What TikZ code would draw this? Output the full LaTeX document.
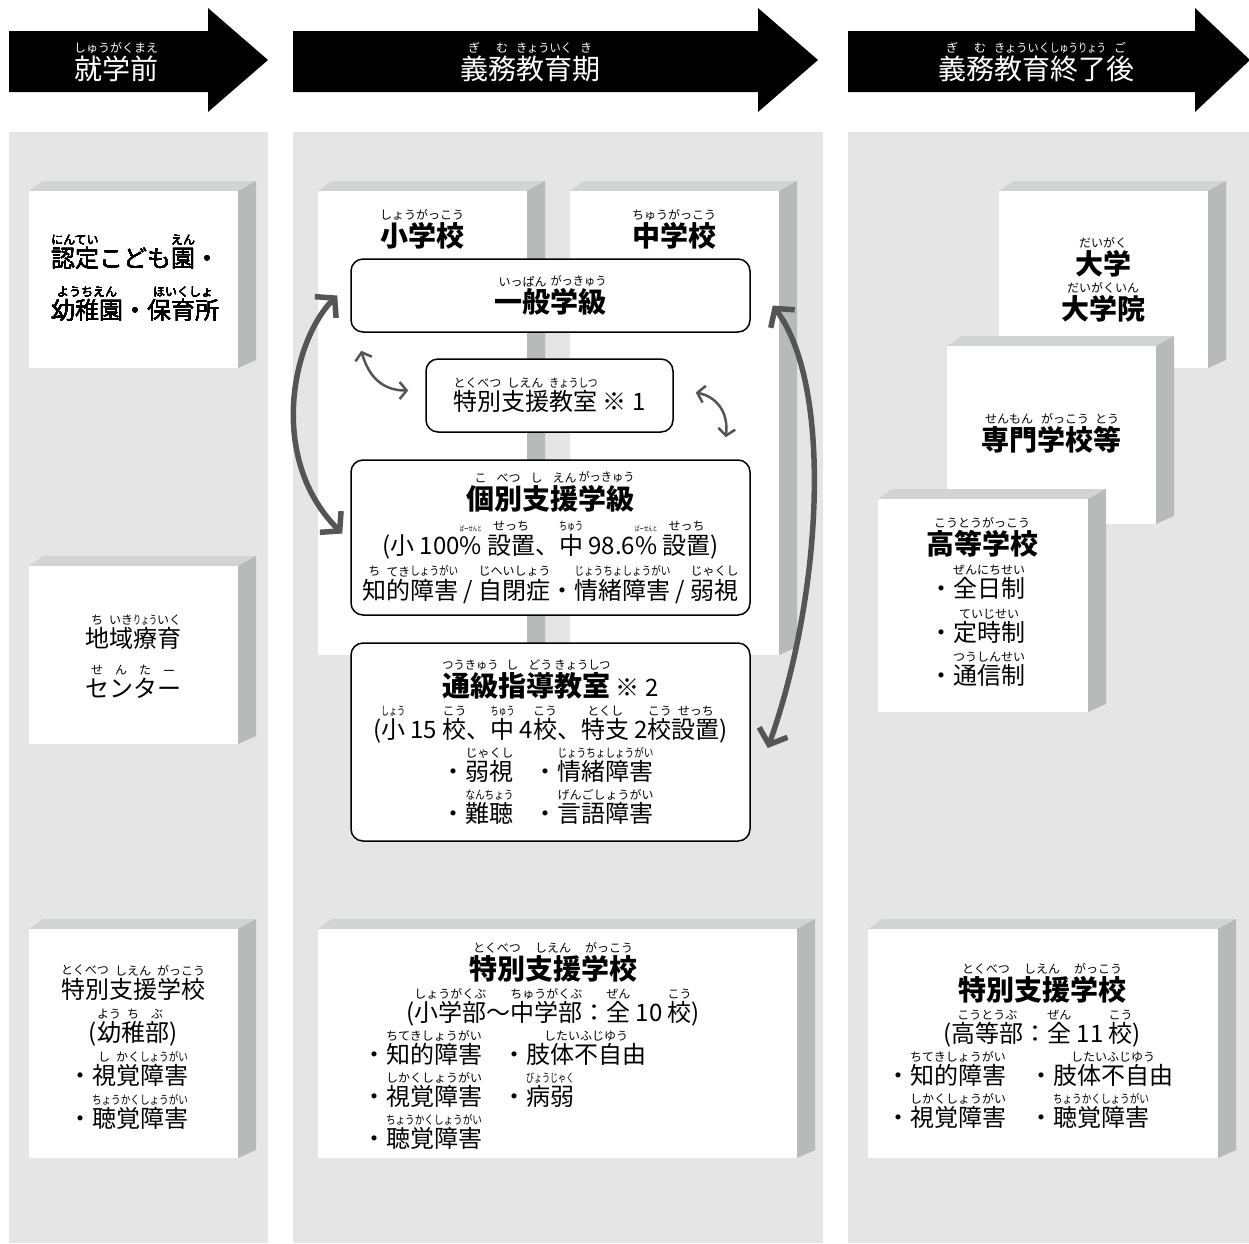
\documentclass[tikz,border=0pt]{standalone}
\usepackage{fontspec}
\setmainfont{Noto Sans CJK JP}
\usepackage{graphicx}
\usetikzlibrary{arrows.meta}

\definecolor{colbg}{HTML}{E5E5E5}
\definecolor{cubetop}{HTML}{D2D3D3}
\definecolor{cubeside}{HTML}{B8B9B9}
\definecolor{arrgray}{HTML}{555555}

% furigana over a word
\newsavebox\rbbase
\newsavebox\rbtext
\newdimen\rbw
\newcommand{\furi}[3][12]{\leavevmode\sbox\rbbase{#2\vphantom{漢}}%
  \sbox\rbtext{\mdseries\fontsize{#1}{#1}\selectfont #3}%
  \ifdim\wd\rbtext>\wd\rbbase\rbw=\wd\rbbase
    \sbox\rbtext{\resizebox{\rbw}{\height}{\usebox\rbtext}}\fi
  \vbox{\offinterlineskip\hbox to\wd\rbbase{\hss\copy\rbtext\hss}\kern2.2pt\copy\rbbase}}
\newcommand{\hd}{\bfseries\fontsize{28}{\baselineskip}\selectfont}

% white block with top and side faces
\newcommand{\cubebox}[4]{%
  \fill[cubetop] (#1,#2) -- (#1+14,#2-10) -- (#3+18,#2-10) -- (#3,#2) -- cycle;
  \fill[cubeside] (#3,#2) -- (#3+18,#2-10) -- (#3+18,#4-8) -- (#3,#4) -- cycle;
  \fill[white] (#1,#2) rectangle (#3,#4);}

\begin{document}
\begin{tikzpicture}
  [x=1pt,y=-1pt,
   titletext/.style={text=white,font=\fontsize{28}{34}\selectfont,inner sep=0pt},
   cubetext/.style={align=center,font=\fontsize{24}{43}\selectfont,inner sep=0pt},
   roundbox/.style={draw,line width=1.5pt,rounded corners=12pt,fill=white,align=center,
     font=\fontsize{24}{43}\selectfont,inner sep=0pt},
   bigarr/.style={arrgray,line width=5.5pt,>={Straight Barb[length=13pt,width=30pt]},<->},
   smallarr/.style={arrgray,line width=2.5pt,>={Straight Barb[length=7pt,width=17pt]},<->}]
  \useasboundingbox (0,0) rectangle (1249,1243);
 \foreach \xa/\xb in {9/268,293/823,848/1249}
    \fill[colbg] (\xa,132) rectangle (\xb,1243);
 \foreach \xa/\xb/\xt in {9/208/268,293/758/818,848/1195/1250}
    \fill (\xa,31) -- (\xb,31) -- (\xb,8) -- (\xt,60) -- (\xb,112) -- (\xb,92) -- (\xa,92) -- cycle;
  \node (pre)[titletext] at (116,62) {\furi{就学前}{しゅうがくまえ}};
  \node (compulsory)[titletext] at (530,62) {\furi{義}{ぎ}\furi{務}{む}\furi{教育}{きょういく}\furi{期}{き}};
  \node (post)[titletext] at (1036,62) {\furi{義}{ぎ}\furi{務}{む}\furi{教育}{きょういく}\furi{終了}{しゅうりょう}\furi{後}{ご}};
 \foreach \xa/\ya/\xb/\yb in {29/191/238/368,29/566/238/744,29/929/238/1158,
    318/191/527/655,570/191/779/655,318/929/797/1158,
    999/191/1208/368,947/346/1156/524,878/499/1088/712,868/929/1218/1158}
    \cubebox{\xa}{\ya}{\xb}{\yb}
  \node (kinder)[cubetext,font=\fontsize{24}{52}\selectfont] at (135,278) {\furi{認定}{にんてい}こども\furi{園}{えん}・\\\furi{幼稚園}{ようちえん}・\furi{保育所}{ほいくしょ}};
  \node (ryoiku)[cubetext,font=\fontsize{24}{50}\selectfont] at (133,657) {\furi{地}{ち}\furi{域}{いき}\furi{療}{りょう}\furi{育}{いく}\\\furi{セ}{せ}\furi{ン}{ん}\furi{タ}{た}\furi{ー}{ー}};
  \node (tokushiA)[cubetext] at (133,1047) {\furi{特別}{とくべつ}\furi{支援}{しえん}\furi{学校}{がっこう}\\(\furi{幼}{よう}\furi{稚}{ち}\furi{部}{ぶ})\\\makebox[130pt][l]{・\furi{視}{し}\furi{覚}{かく}\furi{障害}{しょうがい}}\\\makebox[130pt][l]{・\furi{聴覚障害}{ちょうかくしょうがい}}};
  \node (shogakko)[cubetext] at (422,229) {\hd\furi{小学校}{しょうがっこう}};
  \node (chugakko)[cubetext] at (674,229) {\hd\furi{中学校}{ちゅうがっこう}};
  \node (gen)[roundbox,minimum width=399pt,minimum height=73pt] at (550.5,295.5) {\hd\furi{一般}{いっぱん}\furi{学級}{がっきゅう}};
  \node (tokushitsu)[roundbox,minimum width=247pt,minimum height=73pt] at (549.5,395.5) {\furi{特別}{とくべつ}\furi{支援}{しえん}\furi{教室}{きょうしつ} ※ 1};
  \node (kobetsu)[roundbox,minimum width=399pt,minimum height=155pt,font=\fontsize{24}{45}\selectfont] at (550.5,537.5) {{\hd\furi{個}{こ}\furi{別}{べつ}\furi{支}{し}\furi{援}{えん}\furi{学級}{がっきゅう}}\\(小 100\furi[7]{\%}{ぱーせんと} \furi{設置}{せっち}、\furi{中}{ちゅう} 98.6\furi[7]{\%}{ぱーせんと} \furi{設置}{せっち})\\\furi{知}{ち}\furi{的}{てき}\furi{障害}{しょうがい} / \furi{自閉症}{じへいしょう}・\furi{情緒障害}{じょうちょしょうがい} / \furi{弱視}{じゃくし}};
  \node (tsukyu)[roundbox,minimum width=399pt,minimum height=198pt,font=\fontsize{24}{42}\selectfont] at (550.5,742) {{\hd\furi{通級}{つうきゅう}\furi{指}{し}\furi{導}{どう}\furi{教室}{きょうしつ}} ※ 2\\(\furi{小}{しょう} 15 \furi{校}{こう}、\furi{中}{ちゅう} 4\furi{校}{こう}、\furi{特支}{とくし} 2\furi{校}{こう}\furi{設置}{せっち})\\\makebox[218pt][l]{\makebox[92pt][l]{・\furi{弱視}{じゃくし}}・\furi{情緒障害}{じょうちょしょうがい}}\\\makebox[218pt][l]{\makebox[92pt][l]{・\furi{難聴}{なんちょう}}・\furi{言語障害}{げんごしょうがい}}};
  \node (tokushiB)[cubetext,font=\fontsize{24}{42}\selectfont] at (553,1046) {{\hd\furi{特別}{とくべつ}\furi{支援}{しえん}\furi{学校}{がっこう}}\\(\furi{小学部}{しょうがくぶ}〜\furi{中学部}{ちゅうがくぶ}：\furi{全}{ぜん} 10 \furi{校}{こう})\\\makebox[382pt][l]{\makebox[140pt][l]{・\furi{知的障害}{ちてきしょうがい}}・\furi{肢体不自由}{したいふじゆう}}\\\makebox[382pt][l]{\makebox[140pt][l]{・\furi{視覚障害}{しかくしょうがい}}・\furi{病弱}{びょうじゃく}}\\\makebox[382pt][l]{・\furi{聴覚障害}{ちょうかくしょうがい}}};
  \node (daigaku)[cubetext,font=\bfseries\fontsize{28}{45}\selectfont] at (1103,280) {\furi{大学}{だいがく}\\\furi{大学院}{だいがくいん}};
  \node (senmon)[cubetext,font=\bfseries\fontsize{28}{43}\selectfont] at (1051,433) {\furi{専門}{せんもん}\furi{学校}{がっこう}\furi{等}{とう}};
  \node (koko)[cubetext,font=\fontsize{24}{43.5}\selectfont] at (982,602) {{\hd\furi{高等学校}{こうとうがっこう}}\\\makebox[106pt][l]{・\furi{全日制}{ぜんにちせい}}\\\makebox[106pt][l]{・\furi{定時制}{ていじせい}}\\\makebox[106pt][l]{・\furi{通信制}{つうしんせい}}};
  \node (tokushiC)[cubetext,font=\fontsize{24}{42}\selectfont] at (1042,1046) {{\hd\furi{特別}{とくべつ}\furi{支援}{しえん}\furi{学校}{がっこう}}\\(\furi{高等部}{こうとうぶ}：\furi{全}{ぜん} 11 \furi{校}{こう})\\\makebox[312pt][l]{\makebox[143pt][l]{・\furi{知的障害}{ちてきしょうがい}}・\furi{肢体不自由}{したいふじゆう}}\\\makebox[312pt][l]{\makebox[143pt][l]{・\furi{視覚障害}{しかくしょうがい}}・\furi{聴覚障害}{ちょうかくしょうがい}}};
  \draw[bigarr] ([shift={(-13,0)}]gen.west) .. controls +(-45,45) and +(-75,-75) .. ([shift={(-8,-4)}]kobetsu.west);
  \draw[bigarr] ([shift={(22,10)}]gen.east) .. controls +(60,80) and +(55,-155) .. ([shift={(17,6)}]tsukyu.east);
  \draw[smallarr] ([shift={(11,18)}]gen.south west) .. controls +(8,28) and +(-24,0) .. ([shift={(-17,-5)}]tokushitsu.west);
  \draw[smallarr] ([shift={(22,-3)}]tokushitsu.east) .. controls +(20,4) and +(3,-26) .. ([shift={(-25,-22)}]kobetsu.north east);
\end{tikzpicture}
\end{document}
